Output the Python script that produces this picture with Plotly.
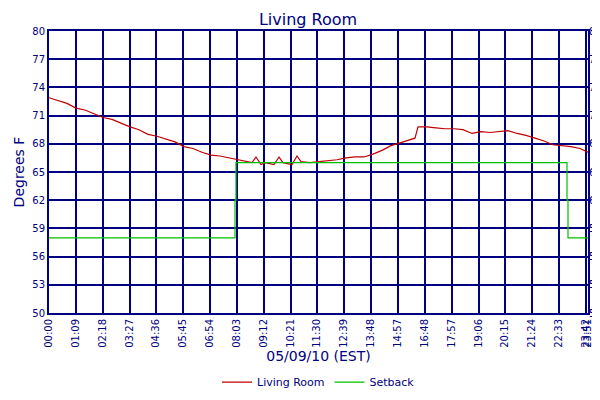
import plotly.graph_objects as go

# readings: sample index -> degrees F
sample_idx = [0, 9, 18, 27, 36, 45, 54, 63, 72, 81, 90, 99, 108, 117, 126, 135, 144, 153,
              162, 171, 180, 189, 198, 203, 207, 212, 216, 225, 230, 234, 243, 248, 252, 261,
              270, 279, 288, 297, 306, 315, 324, 333, 342, 351, 360, 366, 369, 378, 387, 396,
              405, 414, 423, 432, 441, 450, 459, 468, 477, 486, 495, 504, 513, 522, 531, 539]
living = [72.9, 72.6, 72.3, 71.8, 71.6, 71.2, 70.8, 70.6, 70.2, 69.8, 69.5, 69.0, 68.8, 68.5,
          68.2, 67.7, 67.5, 67.1, 66.8, 66.7, 66.5, 66.3, 66.1, 66.0, 66.6, 65.8, 66.0, 65.8,
          66.6, 66.0, 65.8, 66.7, 66.1, 66.0, 66.1, 66.2, 66.3, 66.5, 66.6, 66.6, 66.9, 67.3,
          67.8, 68.1, 68.4, 68.6, 69.8, 69.8, 69.7, 69.6, 69.6, 69.5, 69.1, 69.3, 69.2, 69.3,
          69.4, 69.1, 68.9, 68.6, 68.3, 67.9, 67.8, 67.7, 67.5, 67.1]

setback_idx = [0, 186, 187, 518, 519, 539]
setback = [58, 62, 66, 62, 58, 58]

tick_labels = ["00:00", "01:09", "02:18", "03:27", "04:36", "05:45", "06:54", "08:03", "09:12",
               "10:21", "11:30", "12:39", "13:48", "14:57", "16:48", "17:57", "19:06", "20:15",
               "21:24", "22:33", "23:42", "23:51"]
tick_pos = [round(i * 26.85) for i in range(20)] + [537, 539]
y_ticks = [50, 53, 56, 59, 62, 65, 68, 71, 74, 77, 80]

navy = "#000080"
fig = go.Figure()
fig.add_trace(go.Scatter(x=sample_idx, y=living, mode="lines", name="Living Room",
                         line=dict(color="#c00000", width=1.2)))
fig.add_trace(go.Scatter(x=setback_idx, y=setback, mode="lines", name="Setback",
                         line=dict(color="#00c000", width=1.2, shape="hv")))
fig.add_trace(go.Scatter(x=[0], y=[50], yaxis="y2", showlegend=False,
                         mode="markers", marker=dict(opacity=0), hoverinfo="skip"))

axis_font = dict(family="DejaVu Sans", size=10, color=navy)
fig.update_layout(
    width=600, height=400, paper_bgcolor="white", plot_bgcolor="white",
    margin=dict(l=41, r=20, t=23, b=82),
    title=dict(text="Living Room", x=0.5, y=0.985, yanchor="top",
               font=dict(family="DejaVu Sans", size=16, color=navy)),
    xaxis=dict(range=[0, 539], tickvals=tick_pos, ticktext=tick_labels, tickangle=-90,
               tickfont=axis_font, showgrid=True, gridcolor=navy, gridwidth=1.5,
               zeroline=False, showline=True, linecolor=navy, linewidth=2, mirror=True,
               ticks="", automargin=False,
               title=dict(text="05/09/10 (EST)", standoff=4,
                          font=dict(family="DejaVu Sans", size=14, color=navy))),
    yaxis=dict(range=[50, 80], tickvals=y_ticks, tickfont=axis_font, showgrid=True,
               gridcolor=navy, gridwidth=1.5, zeroline=False, showline=True, linecolor=navy,
               linewidth=2, mirror=True, ticks="", automargin=False,
               title=dict(text="Degrees F", standoff=4,
                          font=dict(family="DejaVu Sans", size=14, color=navy))),
    yaxis2=dict(range=[50, 80], tickvals=y_ticks, tickfont=axis_font, overlaying="y",
                side="right", showgrid=False, zeroline=False, ticks="", automargin=False),
    legend=dict(orientation="h", x=0.5, xanchor="center", y=-0.245, yanchor="middle",
                font=dict(family="DejaVu Sans", size=11, color=navy)),
)
fig.write_html("out.html")
